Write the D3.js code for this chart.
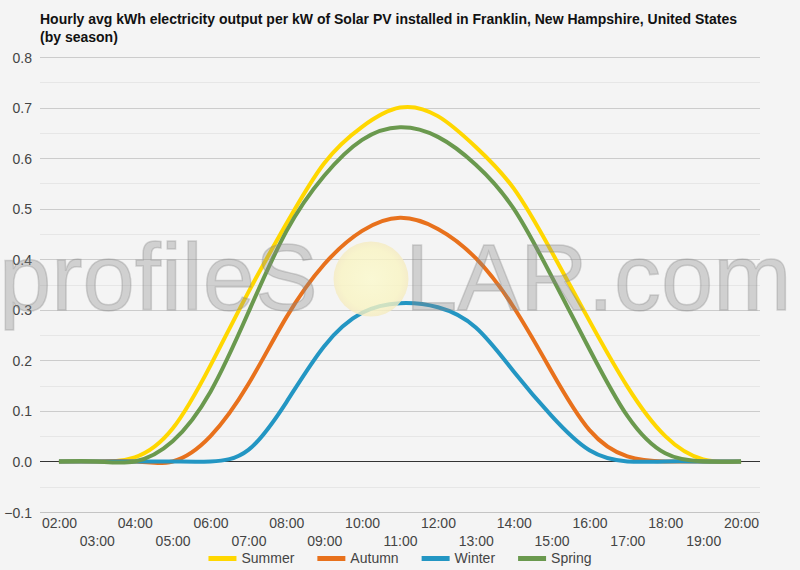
<!DOCTYPE html>
<html><head><meta charset="utf-8">
<script src="https://cdn.jsdelivr.net/npm/d3@7"></script>
<style>
body{margin:0;background:#f4f4f4}
svg{display:block}
text{font-family:"Liberation Sans",Arial,sans-serif}
</style></head>
<body><svg id="c" width="800" height="570"></svg>
<script>
const hours = ["02:00","03:00","04:00","05:00","06:00","07:00","08:00","09:00","10:00","11:00","12:00","13:00","14:00","15:00","16:00","17:00","18:00","19:00","20:00"];
const summer = [0,0,0.008,0.065,0.19,0.335,0.47,0.59,0.662,0.70,0.683,0.622,0.54,0.415,0.278,0.148,0.05,0.004,0];
const autumn = [0,0,0,0,0.05,0.153,0.285,0.39,0.456,0.482,0.46,0.402,0.305,0.178,0.062,0.01,0,0,0];
const winter = [0,0,0,0,0,0.023,0.117,0.228,0.294,0.313,0.305,0.265,0.178,0.09,0.022,0,0,0,0];
const spring = [0,0,0,0.04,0.138,0.295,0.455,0.565,0.636,0.661,0.642,0.587,0.50,0.366,0.222,0.09,0.016,0,0];
const seriesNames = ["Summer","Autumn","Winter","Spring"];
const seriesColors = ["#FFD700","#E8711C","#2396C3","#6A994E"];
const yTicks = [-0.1,0,0.1,0.2,0.3,0.4,0.5,0.6,0.7,0.8];
const yMinor = [-0.05,0.05,0.15,0.25,0.35,0.45,0.55,0.65,0.75];
const titleLines = ["Hourly avg kWh electricity output per kW of Solar PV installed in Franklin, New Hampshire, United States","(by season)"];

const series = [summer, autumn, winter, spring];
const W = 800, H = 570;
const L = 40, R = 760, T = 57, B = 512;
const svg = d3.select("#c");
svg.append("rect").attr("width", W).attr("height", H).attr("fill", "#f4f4f4");

const x = d3.scalePoint().domain(hours).range([L, R]).padding(0.5);
const y = d3.scaleLinear().domain([-0.1, 0.8]).range([B, T]);

// title
svg.selectAll("text.title").data(titleLines).join("text")
  .attr("class","title").attr("x", L).attr("y", (d,i)=> 24 + i*18)
  .attr("font-size", 14).attr("font-weight","bold").attr("fill","#111").text(d=>d);

// gridlines
svg.append("g").selectAll("line").data(yMinor).join("line")
  .attr("x1", L).attr("x2", R).attr("y1", d=>Math.round(y(d))+0.5).attr("y2", d=>Math.round(y(d))+0.5)
  .attr("stroke", "#e6e6e6").attr("stroke-width", 1);
svg.append("g").selectAll("line").data(yTicks).join("line")
  .attr("x1", L).attr("x2", R).attr("y1", d=>Math.round(y(d))+0.5).attr("y2", d=>Math.round(y(d))+0.5)
  .attr("stroke", d=> d===0 ? "#333" : (d===-0.1 ? "#c4c4c4" : "#cccccc")).attr("stroke-width", 1);

// y axis
const yAxis = svg.append("g").attr("transform", `translate(${L},0)`)
  .call(d3.axisLeft(y).tickValues(yTicks).tickFormat(d3.format(".1f")).tickSize(0).tickPadding(8));
yAxis.select(".domain").remove();
yAxis.selectAll("text").attr("font-size", 14).attr("fill", "#444")
  .attr("font-family", '"Liberation Sans",Arial,sans-serif').attr("dy", null).attr("y", 5);

// x axis
const xAxis = svg.append("g").attr("transform", `translate(0,${B})`)
  .call(d3.axisBottom(x).tickSize(0).tickPadding(0));
xAxis.select(".domain").remove();
xAxis.selectAll("text").attr("font-size", 14).attr("fill", "#444")
  .attr("font-family", '"Liberation Sans",Arial,sans-serif')
  .attr("dy", null).attr("y", (d,i)=> i%2===0 ? 16 : 34);

// lines
const line = d3.line().x((d,i)=>x(hours[i])).y(d=>y(d)).curve(d3.curveNatural);
svg.append("g").selectAll("path").data(series).join("path")
  .attr("d", line).attr("fill","none")
  .attr("stroke", (d,i)=>seriesColors[i]).attr("stroke-width", 4)
  .attr("stroke-linejoin","round");

// watermark
const defs = svg.append("defs");
const rg = defs.append("radialGradient").attr("id","sun");
rg.append("stop").attr("offset","0%").attr("stop-color","#fbf9cc");
rg.append("stop").attr("offset","80%").attr("stop-color","#f9f4c2");
rg.append("stop").attr("offset","100%").attr("stop-color","#f5ebc0");
const wm = svg.append("g");
wm.append("text").attr("x", -1).attr("y", 310).attr("font-size", 94)
  .attr("fill", "#888").attr("fill-opacity", 0.33)
  .attr("stroke", "#888").attr("stroke-opacity", 0.33).attr("stroke-width", 1.5).text("profileS");
wm.append("text").attr("x", 405).attr("y", 310).attr("font-size", 94)
  .attr("fill", "#888").attr("fill-opacity", 0.33)
  .attr("stroke", "#888").attr("stroke-opacity", 0.33).attr("stroke-width", 1.5).text("LAR.com");
wm.append("circle").attr("cx", 371).attr("cy", 279).attr("r", 37.5)
  .attr("fill", "url(#sun)").attr("opacity", 0.8);

// legend
const lg = svg.append("g");
const items = lg.selectAll("g").data(seriesNames).join("g");
items.append("line").attr("x1",0).attr("x2",28).attr("y1",558.5).attr("y2",558.5)
  .attr("stroke",(d,i)=>seriesColors[i]).attr("stroke-width",5);
items.append("text").attr("x",33).attr("y",563).attr("font-size",14).attr("fill","#444").text(d=>d);
let widths = [];
items.each(function(){ widths.push(33 + d3.select(this).select("text").node().getComputedTextLength()); });
const gap = 23;
const total = d3.sum(widths) + gap*(widths.length-1);
let cx = 400 - total/2;
items.attr("transform", (d,i)=>{ const t = `translate(${cx},0)`; cx += widths[i] + gap; return t; });
</script></body></html>
